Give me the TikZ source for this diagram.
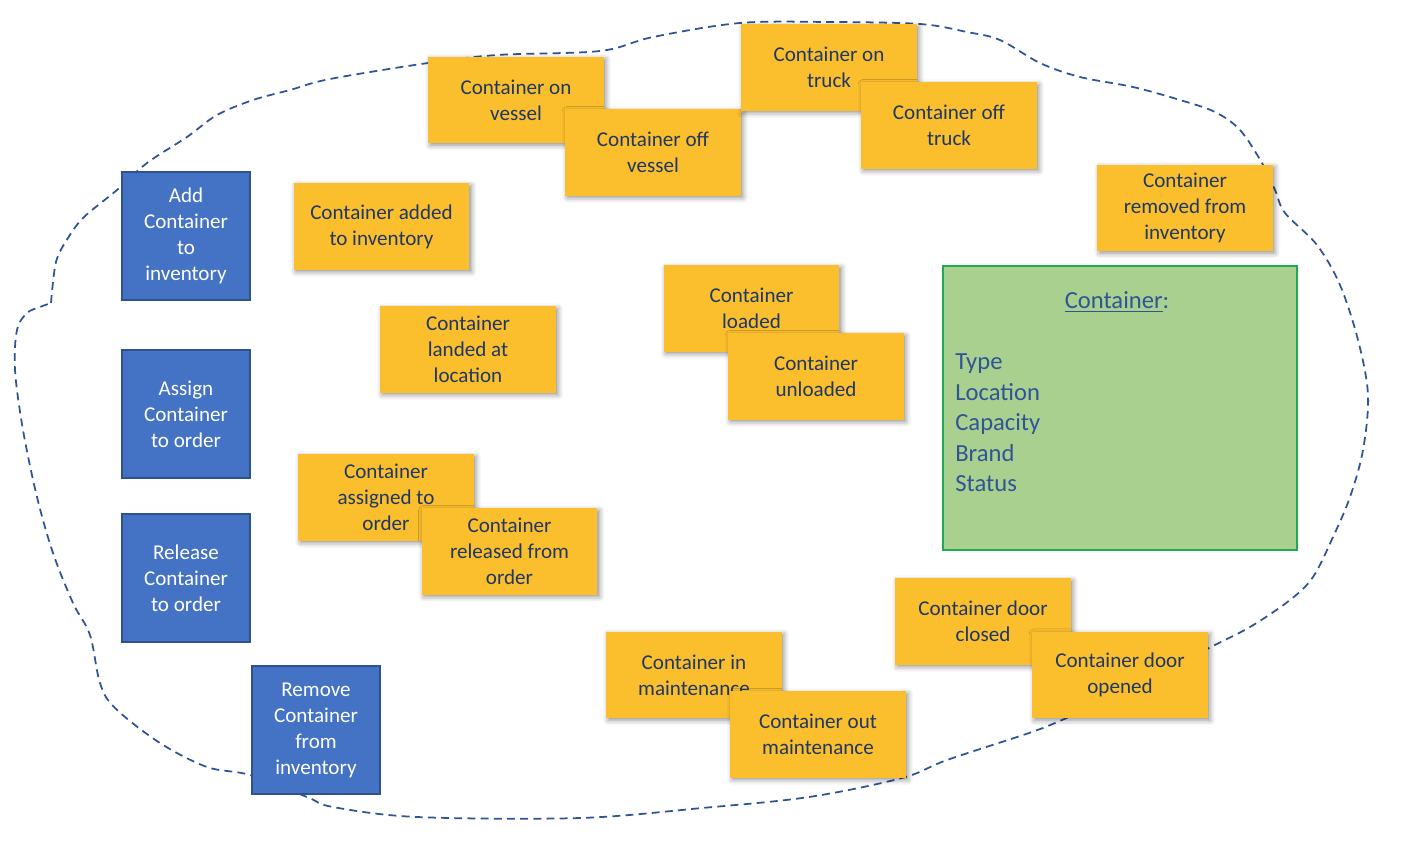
\documentclass[tikz,border=0pt]{standalone}
\usepackage{fontspec}
\setmainfont{Carlito}
\usepackage{xcolor}
\usepackage{tikz}
\usetikzlibrary{shadows.blur}

\definecolor{stickyyellow}{RGB}{251,190,45}
\definecolor{eventtext}{RGB}{31,56,100}
\definecolor{cmdblue}{RGB}{68,114,196}
\definecolor{cmdborder}{RGB}{47,82,143}
\definecolor{aggfill}{RGB}{169,208,142}
\definecolor{aggborder}{RGB}{30,170,80}
\definecolor{aggtext}{RGB}{47,85,151}
\definecolor{boundblue}{RGB}{47,84,150}

\begin{document}
\begin{tikzpicture}[x=0.02cm, y=-0.02cm,
    event/.style={fill=stickyyellow, text=eventtext, minimum width=100pt,
      minimum height=49pt, inner sep=0pt, align=center,
      font=\fontsize{12}{14.8}\selectfont,
      blur shadow={shadow xshift=1.2pt, shadow yshift=-1.2pt,
        shadow blur radius=3pt, shadow opacity=45}},
    command/.style={fill=cmdblue, draw=cmdborder, line width=1.1pt,
      minimum size=73pt, inner sep=0pt, text=white, align=center,
      font=\fontsize{12}{14.8}\selectfont},
    boundary/.style={draw=boundblue, line width=1pt,
      dash pattern=on 4.5pt off 3pt}]

\useasboundingbox (0,0) rectangle (1414,846);

% Context boundary
\draw[boundary] plot[smooth, tension=0.55] coordinates {
  (51,303) (56,262) (68,238) (84,217) (117,190) (147,163) (187,137)
  (217,115) (253,100) (290,90) (330,79) (428,63) (497,55) (600,51)
  (653,37) (740,23) (830,22) (920,24) (967,32) (1000,40) (1040,63)
  (1080,77) (1133,87) (1180,100) (1215,112) (1240,130) (1262,163)
  (1275,190) (1285,213) (1317,245) (1340,285) (1358,340) (1368,395)
  (1363,450) (1350,497) (1333,537) (1313,577) (1290,600) (1250,627)
  (1209,648) (1130,690) (1062,720) (1029,733) (947,760) (902,778)
  (809,797) (702,808) (580,818) (417,817) (333,807) (307,797)
  (250,775) (207,767) (160,743) (115,708) (100,683) (90,635) (73,603)
  (53,553) (37,497) (23,430) (15,370) (17,330) (27,313) (40,307)
  (51,303)} -- cycle;

% Commands
\node[command] (addcmd) at (186,236) {Add\\Container\\to\\inventory};
\node[command] (assigncmd) at (186,414) {Assign\\Container\\to order};
\node[command] (releasecmd) at (186,578) {Release\\Container\\to order};
\node[command] (removecmd) at (316,730) {Remove\\Container\\from\\inventory};

% Events
\node[event] (onvessel) at (516,100) {Container on\\vessel};
\node[event] (offvessel) at (653,152.5) {Container off\\vessel};
\node[event] (ontruck) at (829,67.5) {Container on\\truck};
\node[event] (offtruck) at (949,125.5) {Container off\\truck};
\node[event] (removed) at (1185,208) {Container\\removed from\\inventory};
\node[event] (added) at (381.5,226.5) {Container added\\to inventory};
\node[event] (landed) at (468,349.5) {Container\\landed at\\location};
\node[event] (loaded) at (751.5,308.5) {Container\\loaded};
\node[event] (unloaded) at (816,376.5) {Container\\unloaded};
\node[event] (assigned) at (386,497.5) {Container\\assigned to\\order};
\node[event] (released) at (509.5,551.5) {Container\\released from\\order};
\node[event] (inmaint) at (694,675) {Container in\\maintenance};
\node[event] (outmaint) at (818,734.5) {Container out\\maintenance};
\node[event] (doorclosed) at (983,621.5) {Container door\\closed};
\node[event] (dooropened) at (1120,675) {Container door\\opened};

% Aggregate
\node[fill=aggfill, draw=aggborder, line width=1.1pt, minimum width=201pt,
  minimum height=162pt] (aggregate) at (1120,408) {};
\node[text=aggtext, font=\fontsize{14}{17.4}\selectfont] (aggtitle)
  at (1117,302) {\underline{Container}:};
\node[text=aggtext, font=\fontsize{14}{17.4}\selectfont, anchor=west,
  align=left, inner sep=0pt] (aggattrs) at (955,423)
  {Type\\Location\\Capacity\\Brand\\Status};

\end{tikzpicture}
\end{document}
